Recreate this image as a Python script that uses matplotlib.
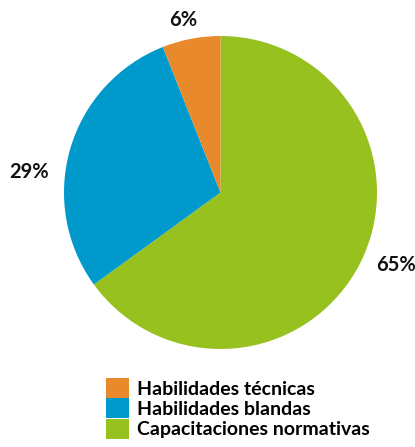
import matplotlib
matplotlib.use('Agg')
import matplotlib.pyplot as plt
from matplotlib.patches import Patch

plt.rcParams['font.family'] = ['Lato', 'DejaVu Sans']

categories = ['Capacitaciones normativas', 'Habilidades blandas', 'Habilidades técnicas']
values = [65, 29, 6]
colors = ['#96c11f', '#0099cc', '#e8892b']

W, H = 415, 447
fig = plt.figure(figsize=(W / 100, H / 100), dpi=100)

# pie axes: centre (220.5, 192.5) px, radius 156.5 px
cx, cy, r = 220.5, 192.5, 156.5
ax = fig.add_axes([(cx - r) / W, (H - cy - r) / H, 2 * r / W, 2 * r / H])
ax.pie(values, colors=colors, startangle=90, counterclock=False, radius=1,
       wedgeprops=dict(linewidth=0))
ax.set_xlim(-1, 1)
ax.set_ylim(-1, 1)
ax.set_aspect('equal')
ax.axis('off')

# percentage labels
label_pos = {65: (396, 265), 29: (29, 172), 6: (183, 20)}
for v in values:
    x, y = label_pos[v]
    fig.text(x / W, 1 - y / H, f'{v}%', ha='center', va='center',
             fontsize=14.5, fontweight='bold', color='#111111')

# legend, listed from smallest share
handles = [Patch(facecolor=c, edgecolor='none') for c in colors[::-1]]
fig.legend(handles, categories[::-1], loc='upper left',
           bbox_to_anchor=(106 / W, 1 - 378 / H), frameon=False,
           borderpad=0, borderaxespad=0, handlelength=1.17, handleheight=1.2,
           handletextpad=0.4, labelspacing=0.02,
           prop=dict(size=14, weight='bold'))

fig.savefig('out.png', dpi=100)
